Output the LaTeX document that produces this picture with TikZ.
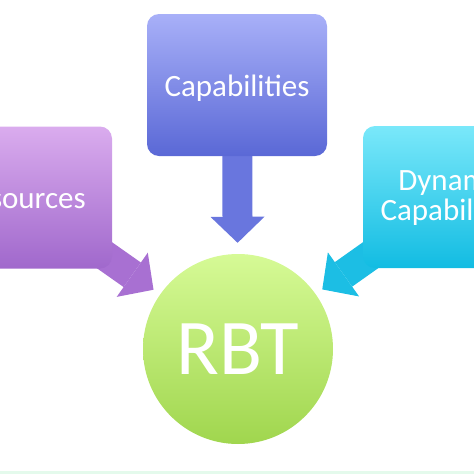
\documentclass[tikz,border=0pt]{standalone}
\usepackage{fontspec}
\setmainfont{Carlito}
\usetikzlibrary{arrows.meta,backgrounds}
\definecolor{capTop}{RGB}{168,176,248}
\definecolor{capBot}{RGB}{90,104,214}
\definecolor{capArr}{RGB}{105,118,222}
\definecolor{resTop}{RGB}{218,172,238}
\definecolor{resBot}{RGB}{160,104,204}
\definecolor{resArr}{RGB}{168,112,210}
\definecolor{dynTop}{RGB}{122,232,250}
\definecolor{dynBot}{RGB}{18,188,226}
\definecolor{dynArr}{RGB}{28,190,228}
\definecolor{rbtTop}{RGB}{214,250,150}
\definecolor{rbtBot}{RGB}{160,214,78}
\definecolor{mint}{RGB}{228,250,236}
\begin{document}
\begin{tikzpicture}[x=1pt,y=-1pt,
  box/.style={rounded corners=12pt, minimum width=180pt, minimum height=142pt,
    inner sep=0pt, text=white, font=\fontsize{31}{30}\selectfont, align=center},
  fat/.style={line width=30pt, -{Triangle[length=26pt 0 0, width=54pt 0 0, line width=0pt 0 0]},
    shorten >=#1},
]
\useasboundingbox (0,0) rectangle (474,474);
\clip (0,0) rectangle (474,474);
\node[box, top color=capTop, bottom color=capBot, text height=22pt, text depth=0pt] (cap) at (237,85) {Capabilities};
\node[box, top color=resTop, bottom color=resBot, text height=22pt, text depth=0pt] (res) at (22,197.5) {Resources};
\node[box, top color=dynTop, bottom color=dynBot] (dyn) at (453,197) {Dynamic\\Capabilities};
\node[circle, minimum size=190pt, inner sep=0pt, top color=rbtTop, bottom color=rbtBot,
  text=white, font=\fontsize{79}{79}\selectfont] (rbt) at (238,349) {RBT};
\begin{scope}[on background layer]
\draw[fat=11pt, draw=capArr, shorten <=-5pt] (cap) -- (rbt);
\draw[fat=8pt, draw=resArr, shorten <=-25pt] (res) -- (rbt);
\draw[fat=8pt, draw=dynArr, shorten <=-25pt] (dyn) -- (rbt);
\end{scope}
\fill[mint] (0,471) rectangle (474,474);
\end{tikzpicture}
\end{document}
